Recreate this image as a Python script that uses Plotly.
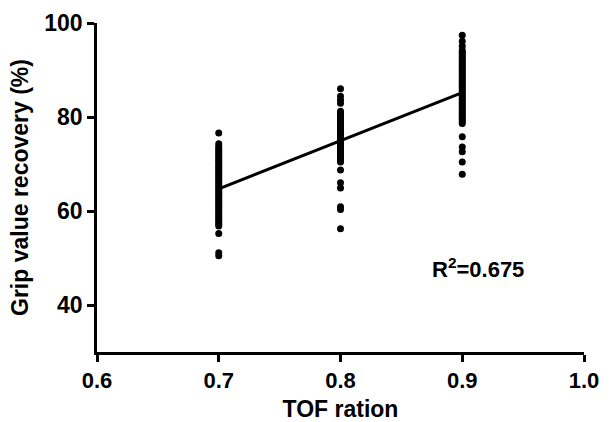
import plotly.graph_objects as go

tof_07 = [76.6, 74.3, 73.8, 73.3, 72.9, 72.5, 72.0, 71.6, 71.2, 70.8, 70.4, 70.0,
          69.6, 69.2, 68.8, 68.4, 68.0, 67.6, 67.2, 66.8, 66.4, 66.0, 65.6, 65.2,
          64.8, 64.4, 64.0, 63.6, 63.2, 62.8, 62.4, 62.0, 61.6, 61.2, 60.8, 60.4,
          60.0, 59.6, 59.2, 58.8, 58.4, 58.0, 57.6, 57.2, 56.8, 55.2, 51.1, 50.5]
tof_08 = [86.0, 84.4, 83.6, 82.9, 81.2, 80.8, 80.4, 80.0, 79.6, 79.2, 78.8, 78.4,
          78.0, 77.6, 77.2, 76.8, 76.4, 76.0, 75.6, 75.2, 74.8, 74.4, 74.0, 73.6,
          73.2, 72.8, 72.4, 72.0, 71.6, 71.2, 70.8, 70.4, 68.7, 66.0, 64.9, 60.9,
          60.3, 56.2]
tof_09 = [97.4, 96.1, 95.1, 94.2, 93.8, 93.4, 93.0, 92.6, 92.2, 91.8, 91.4, 91.0,
          90.6, 90.2, 89.8, 89.4, 89.0, 88.6, 88.2, 87.8, 87.4, 87.0, 86.6, 86.2,
          85.8, 85.4, 85.0, 84.6, 84.2, 83.8, 83.4, 83.0, 82.6, 82.2, 81.8, 81.4,
          81.0, 80.6, 80.2, 79.8, 79.4, 79.0, 78.6, 75.8, 73.6, 72.6, 70.4, 67.8]
fit_x = [0.7, 0.9]
fit_y = [64.7, 85.2]
x_ticks = [0.6, 0.7, 0.8, 0.9, 1.0]
y_ticks = [40, 60, 80, 100]

xs = [0.7] * len(tof_07) + [0.8] * len(tof_08) + [0.9] * len(tof_09)
ys = tof_07 + tof_08 + tof_09

fig = go.Figure()
fig.add_trace(go.Scatter(x=fit_x, y=fit_y, mode="lines",
                         line=dict(color="black", width=3), hoverinfo="skip"))
fig.add_trace(go.Scatter(x=xs, y=ys, mode="markers",
                         marker=dict(color="black", size=7)))

font = "Liberation Sans"
fig.add_annotation(x=0.913, y=47.8, text="R<sup>2</sup>=0.675", showarrow=False,
                   font=dict(family=font, size=22, color="black", weight=700))

axis_common = dict(showline=True, linecolor="black", linewidth=2.5,
                   ticks="outside", ticklen=7, tickwidth=2.5, tickcolor="black",
                   showgrid=False, zeroline=False, automargin=False)
tick_font = dict(family="Liberation Sans Bold, Liberation Sans", color="black", weight=700)
fig.update_xaxes(range=[0.6, 1.0], tickvals=x_ticks,
                 ticktext=[f"{v:.1f}" for v in x_ticks],
                 tickfont=dict(size=22, **tick_font),
                 title=dict(text="TOF ration",
                            font=dict(family=font, size=23, color="black", weight=700),
                            standoff=16),
                 **axis_common)
fig.update_yaxes(range=[30, 100], tickvals=y_ticks,
                 ticktext=[str(v) for v in y_ticks],
                 tickfont=dict(size=23, **tick_font),
                 title=dict(text="Grip value recovery (%)",
                            font=dict(family=font, size=23, color="black", weight=700),
                            standoff=10),
                 **axis_common)
fig.update_layout(width=616, height=422, showlegend=False,
                  plot_bgcolor="white", paper_bgcolor="white",
                  margin=dict(l=97, r=32, t=23, b=70))
fig.write_html("out.html", config={"displayModeBar": False},
               post_script="document.body.style.margin='0';")
